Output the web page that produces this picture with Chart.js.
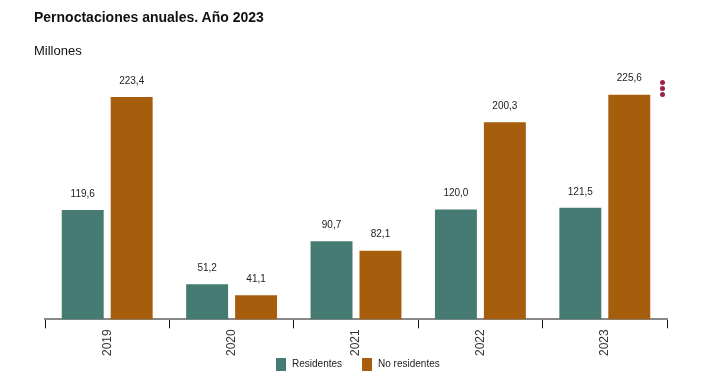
<!DOCTYPE html>
<html>
<head>
<meta charset="utf-8">
<script src="https://cdn.jsdelivr.net/npm/chart.js@4"></script>
<style>
  body { margin: 0; background: #fff; font-family: Arial, "Liberation Sans", sans-serif; }
  #wrap { position: relative; width: 709px; height: 385px; }
  #title { position: absolute; left: 34px; top: 9px; font-size: 14px; font-weight: bold; color: #111; }
  #sub { position: absolute; left: 34px; top: 43px; font-size: 13px; color: #111; }
  #menu { position: absolute; left: 660px; top: 80px; width: 6px; }
  #menu span { display: block; width: 5px; height: 5px; border-radius: 50%; background: #9c1f4a; margin-bottom: 1px; }
</style>
</head>
<body>
<div id="wrap">
  <canvas id="myChart" width="709" height="385"></canvas>
  <div id="title">Pernoctaciones anuales. Año 2023</div>
  <div id="sub">Millones</div>
  <div id="menu"><span></span><span></span><span></span></div>
</div>
<script>
const years = ['2019', '2020', '2021', '2022', '2023'];
const residentes = [119.6, 51.2, 90.7, 120.0, 121.5];
const noResidentes = [223.4, 41.1, 82.1, 200.3, 225.6];

const greenColor = '#467b74';
const brownColor = '#a65d0c';

// draws the value above each bar
const barLabels = {
    id: 'barLabels',
    afterDatasetsDraw(chart) {
        const ctx = chart.ctx;
        ctx.save();
        ctx.font = '10px Arial, "Liberation Sans"';
        ctx.fillStyle = '#222';
        ctx.textAlign = 'center';
        ctx.textBaseline = 'bottom';
        chart.data.datasets.forEach((ds, i) => {
            chart.getDatasetMeta(i).data.forEach((bar, j) => {
                const txt = ds.data[j].toFixed(1).replace('.', ',');
                ctx.fillText(txt, bar.x, bar.y - 11);
            });
        });
        ctx.restore();
    }
};

// small legend under the axis labels, items spaced like the original
const bottomLegend = {
    id: 'bottomLegend',
    afterDraw(chart) {
        const ctx = chart.ctx;
        const y = 364;
        const gap = 20;
        ctx.save();
        ctx.font = '10px Arial, "Liberation Sans"';
        ctx.textBaseline = 'middle';
        const items = chart.data.datasets.map(ds => ({
            text: ds.label,
            color: ds.backgroundColor,
            w: 10 + 6 + ctx.measureText(ds.label).width
        }));
        const total = items.reduce((s, it) => s + it.w, 0) + gap * (items.length - 1);
        let x = Math.round(chart.width / 2 + 3 - total / 2);
        items.forEach(it => {
            ctx.fillStyle = it.color;
            ctx.fillRect(x, y - 6, 10, 13);
            ctx.fillStyle = '#222';
            ctx.fillText(it.text, x + 16, y + 0.5);
            x += it.w + gap;
        });
        ctx.restore();
    }
};

function loadChart() {
    const ctx = document.getElementById('myChart');

    const data = {
        labels: years,
        datasets: [{
            label: 'Residentes',
            data: residentes,
            backgroundColor: greenColor,
            categoryPercentage: 0.787,
            barPercentage: 0.857
        }, {
            label: 'No residentes',
            data: noResidentes,
            backgroundColor: brownColor,
            categoryPercentage: 0.787,
            barPercentage: 0.857
        }]
    };

    new Chart(ctx, {
        type: 'bar',
        data: data,
        plugins: [barLabels, bottomLegend],
        options: {
            responsive: false,
            animation: false,
            layout: {
                padding: { left: 45, right: 42, top: 79, bottom: 28 }
            },
            plugins: {
                legend: { display: false },
                tooltip: { enabled: false }
            },
            scales: {
                x: {
                    grid: {
                        offset: true,
                        drawOnChartArea: false,
                        tickLength: 9,
                        color: '#111'
                    },
                    border: { color: '#888', width: 2 },
                    ticks: {
                        minRotation: 90,
                        maxRotation: 90,
                        padding: 1,
                        color: '#333',
                        font: { size: 12, family: 'Arial, "Liberation Sans"' }
                    }
                },
                y: {
                    display: false,
                    min: 19,
                    max: 240
                }
            }
        }
    });
}

loadChart();
</script>
</body>
</html>
